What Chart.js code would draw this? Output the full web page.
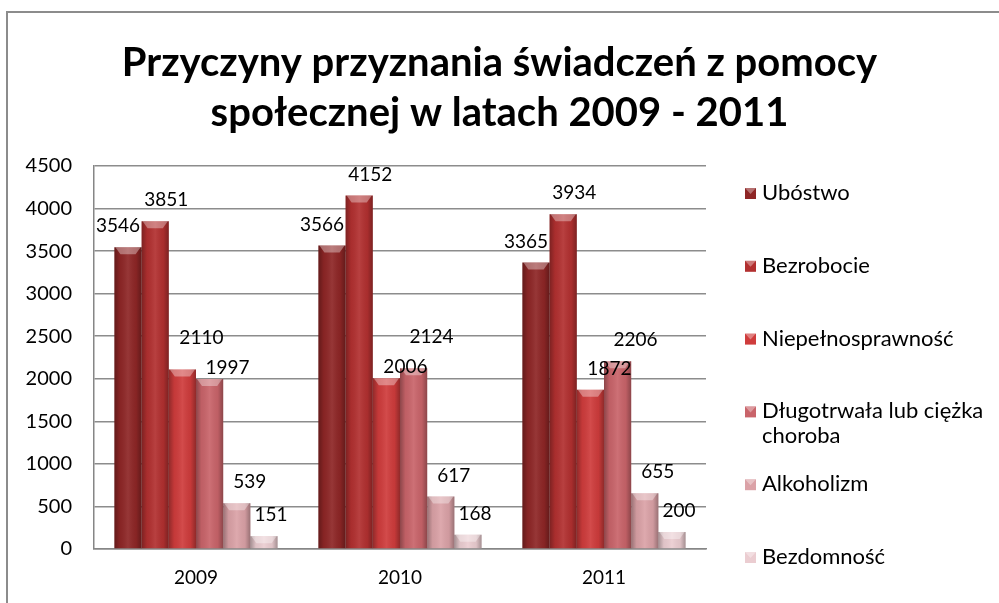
<!DOCTYPE html>
<html>
<head>
<meta charset="utf-8">
<script src="https://cdn.jsdelivr.net/npm/chart.js@4.4.0/dist/chart.umd.min.js"></script>
<style>
  body { margin: 0; background: #fff; }
  #wrap { position: relative; width: 999px; height: 603px; overflow: hidden; }
  .frame { position: absolute; left: 6px; top: 11px; width: 1010px; height: 620px; border: 2px solid #8c8c8c; }
  canvas { position: absolute; left: 0; top: 0; }
</style>
</head>
<body>
<div id="wrap">
  <div class="frame"></div>
  <canvas id="myChart" width="999" height="603"></canvas>
</div>
<script>
const years = ['2009', '2010', '2011'];
const seriesNames = ['Ubóstwo', 'Bezrobocie', 'Niepełnosprawność', ['Długotrwała lub ciężka', 'choroba'], 'Alkoholizm', 'Bezdomność'];
const ubostwo = [3546, 3566, 3365];
const bezrobocie = [3851, 4152, 3934];
const niepelnosprawnosc = [2110, 2006, 1872];
const choroba = [1997, 2124, 2206];
const alkoholizm = [539, 617, 655];
const bezdomnosc = [151, 168, 200];
const yTicks = [0, 500, 1000, 1500, 2000, 2500, 3000, 3500, 4000, 4500];

const colors = ['#8e2626', '#b23030', '#cf3c3c', '#c9646a', '#dba2a7', '#ebcdd1'];
const labelDx = [-10, 11, 19, 18, 13, 7];
const fontName = 'Lato, "Open Sans", sans-serif';

const values = [ubostwo, bezrobocie, niepelnosprawnosc, choroba, alkoholizm, bezdomnosc];
const datasets = values.map(function(v, i) {
    return {
        label: Array.isArray(seriesNames[i]) ? seriesNames[i].join(' ') : seriesNames[i],
        data: v,
        backgroundColor: colors[i],
        borderWidth: 0,
        categoryPercentage: 0.8,
        barPercentage: 1.0
    };
});

// fake 3d shading on the bars
const shadePlugin = {
    id: 'shade',
    afterDatasetsDraw(chart) {
        const ctx = chart.ctx;
        chart.data.datasets.forEach(function(ds, i) {
            chart.getDatasetMeta(i).data.forEach(function(bar) {
                const l = bar.x - bar.width / 2, r = bar.x + bar.width / 2;
                const g = ctx.createLinearGradient(l, 0, r, 0);
                g.addColorStop(0, 'rgba(0,0,0,0.30)');
                g.addColorStop(0.2, 'rgba(0,0,0,0.05)');
                g.addColorStop(0.5, 'rgba(255,255,255,0.08)');
                g.addColorStop(0.8, 'rgba(0,0,0,0.05)');
                g.addColorStop(1, 'rgba(0,0,0,0.30)');
                ctx.save();
                ctx.fillStyle = g;
                ctx.fillRect(l, bar.y, bar.width, bar.base - bar.y);
                ctx.beginPath();
                ctx.moveTo(l + 1, bar.y);
                ctx.lineTo(r - 1, bar.y);
                ctx.lineTo(r - 6, bar.y + 7);
                ctx.lineTo(l + 6, bar.y + 7);
                ctx.closePath();
                ctx.fillStyle = 'rgba(255,255,255,0.35)';
                ctx.fill();
                ctx.restore();
            });
        });
    }
};

const valueLabels = {
    id: 'valueLabels',
    afterDatasetsDraw(chart) {
        const ctx = chart.ctx;
        ctx.save();
        ctx.font = '19px ' + fontName;
        ctx.fillStyle = '#000';
        ctx.textAlign = 'center';
        ctx.textBaseline = 'middle';
        years.forEach(function(y, j) {
            let items = [];
            chart.data.datasets.forEach(function(ds, i) {
                const bar = chart.getDatasetMeta(i).data[j];
                const t = String(ds.data[j]);
                items.push({ x: bar.x + labelDx[i], y: bar.y - 21, top: bar.y, t: t, w: ctx.measureText(t).width });
            });
            for (let k = 1; k < items.length; k++) {
                const a = items[k - 1], b = items[k];
                if (Math.abs(a.x - b.x) < (a.w + b.w) / 2 && Math.abs(a.y - b.y) < 20) {
                    const mid = (a.y + b.y) / 2;
                    if (a.top < b.top) { a.y = mid - 15; b.y = mid + 15; }
                    else { b.y = mid - 15; a.y = mid + 15; }
                }
            }
            items.forEach(function(it) { ctx.fillText(it.t, it.x, it.y); });
        });
        ctx.restore();
    }
};

const sideLegend = {
    id: 'sideLegend',
    afterDraw(chart) {
        const ctx = chart.ctx;
        const x0 = chart.chartArea.right + 39;
        const y0 = 193, step = 72.8;
        ctx.save();
        ctx.font = '22px ' + fontName;
        ctx.textBaseline = 'middle';
        ctx.textAlign = 'left';
        seriesNames.forEach(function(name, i) {
            const y = y0 + i * step;
            ctx.fillStyle = colors[i];
            ctx.fillRect(x0, y - 5, 11, 11);
            ctx.fillStyle = 'rgba(255,255,255,0.35)';
            ctx.beginPath();
            ctx.moveTo(x0, y - 5); ctx.lineTo(x0 + 11, y - 5); ctx.lineTo(x0 + 5.5, y + 1);
            ctx.closePath(); ctx.fill();
            ctx.fillStyle = '#000';
            const lines = Array.isArray(name) ? name : [name];
            lines.forEach(function(ln, k) {
                ctx.fillText(ln, x0 + 17, y + k * 25);
            });
        });
        ctx.restore();
    }
};

const myChart = new Chart(document.getElementById('myChart'), {
    type: 'bar',
    data: { labels: years, datasets: datasets },
    plugins: [shadePlugin, valueLabels, sideLegend],
    options: {
        responsive: false,
        animation: false,
        layout: { padding: { left: 0, right: 0, top: 14, bottom: 0 } },
        plugins: {
            legend: { display: false },
            tooltip: { enabled: false },
            title: {
                display: true,
                text: ['Przyczyny przyznania świadczeń z pomocy', 'społecznej w latach 2009 - 2011'],
                color: '#000',
                font: { family: fontName, size: 40, weight: 'bold', lineHeight: 1.25 },
                padding: { top: 24, bottom: 28 }
            }
        },
        scales: {
            x: {
                grid: { display: false, drawTicks: false },
                border: { color: '#868686', width: 1.5 },
                ticks: { color: '#000', font: { family: fontName, size: 19 }, padding: 17 },
                afterFit: function(s) { s.height = 54; }
            },
            y: {
                min: 0,
                max: 4500,
                afterBuildTicks: function(s) { s.ticks = yTicks.map(function(v) { return { value: v }; }); },
                grid: { color: '#8c8c8c', lineWidth: 1.5, drawTicks: false },
                border: { color: '#868686', width: 1.5 },
                ticks: {
                    color: '#000',
                    font: { family: fontName, size: 20 },
                    padding: 22,
                    callback: function(v) { return String(v); }
                },
                afterFit: function(s) { s.width = 94; }
            },
            // empty axis that only keeps room for the legend on the right
            side: {
                type: 'linear',
                position: 'right',
                grid: { display: false },
                border: { display: false },
                ticks: { display: false },
                afterFit: function(s) { s.width = 293; }
            }
        }
    }
});
</script>
</body>
</html>
